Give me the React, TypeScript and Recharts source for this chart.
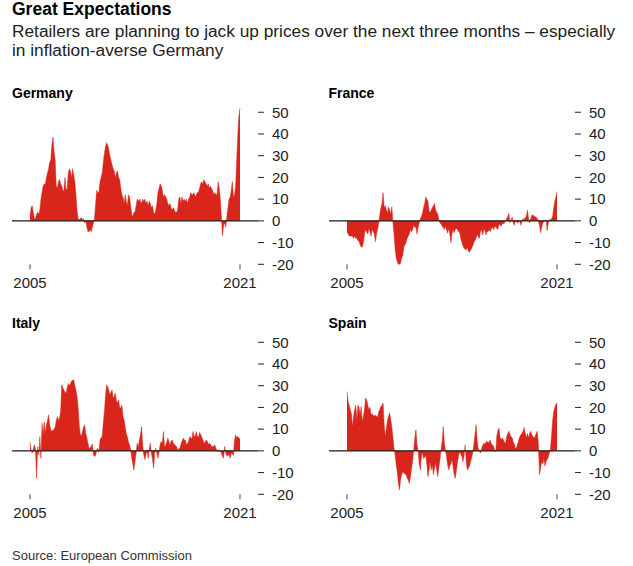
import React from 'react';
import { AreaChart, Area, XAxis, YAxis, ReferenceLine } from 'recharts';

// Monthly readings, Jan 2005 .. Jan 2021 (balance of retailers expecting higher prices)
const startYear = 2005;

const germany = [
  2, 6, 7, 4, 1, 1, 3, 4, 3, 5,
  10, 13, 16, 17, 17, 20, 22, 24, 27, 28,
  35, 38.5, 32, 28, 16, 15, 18, 19, 17, 16,
  14, 14, 20, 14, 15, 22, 24, 23, 20, 24,
  21, 18, 12, 5, 1, 0.5, 1, 1.5, 0.5, 1,
  -1, 0, -3, -5, -5, -4, -5, -3, -1, 1,
  8, 14, 13, 13, 18, 20, 22, 27, 31, 34,
  36, 35, 33, 30, 28, 26, 24, 23, 20, 22,
  23, 20, 19, 15, 12, 11, 8, 12, 9, 7,
  12, 11, 7, 3, 2, 4, 4, 7, 10, 9,
  10, 9, 8, 10, 9, 10, 8, 9, 7, 9,
  8, 6, 7, 4, 3, 5, 8, 13, 15, 17,
  16, 14, 11, 12, 11, 10, 8, 7, 8, 6,
  5, 6, 5, 4, 4, 5, 10, 11, 8, 11,
  9, 10, 9, 10, 8, 10, 11, 13, 12, 12,
  13, 11, 12, 13, 13, 15, 17, 18, 17, 19,
  18, 17, 16, 17, 15, 16, 15, 14, 12, 13,
  12, 12, 18, 15, 10, 2, -7, -2, -1, -3,
  2, 6, 10, 11, 14, 18, 11, 12, 16, 28,
  40, 48, 52,
];

const france = [
  -5, -6, -7, -7, -7, -7, -8, -7, -8, -8,
  -9, -9.5, -11, -12, -12, -10, -6, -4, -5, -6,
  -3.5, -5, -7, -4, -5, -6, -9.5, -6, -4, -1,
  3, 6, 8, 13, 6, 7, 5, 3.5, 6.5, 5,
  3, 6.5, -1, -6, -13, -17, -19, -20, -20, -19.5,
  -17, -16, -12, -11, -10, -8, -7, -6, -4, -5,
  -4, -2, -3, -3, -6, -3, -1, 1, 2, 3.5,
  6, 8, 11, 10, 9, 4.5, 4, 5, 6, 7,
  8, 5, 4, 3, 0.5, -1, -1.5, -2.5, -3, -4,
  -2.5, -4, -5.7, -3.5, -6, -10, -6, -4, -5.5, -4,
  -3.5, -4, -5, -5.5, -8, -10, -11.5, -12.6, -13, -13.4,
  -12, -14, -14.5, -13.5, -12.5, -11.5, -10, -9, -8, -6,
  -7.5, -8, -5, -4, -6.5, -4.5, -4, -6.5, -5, -5,
  -4, -5, -3.5, -3, -4, -3, -2.5, -3.5, -4, -1.5,
  -2, -2.5, -1, -1.5, -1, 0, 1, 2, 3.5, -1,
  0.5, 1.7, -1, -2, 0, -0.5, -1, -0.5, 0, -2,
  0, 1, 0.5, 1.5, 2, 5, 1, -1, 1, 2.5,
  2.8, 2, 2, 1.5, 1, 0, -2, -5.5, -3, -1,
  -0.5, 0, 0.5, -4.5, -1, 0.5, 0.5, 1, 2, 6,
  9, 11, 13.5,
];

const italy = [
  4, 0.5, -1, 1, 2.8, 1, -12.6, 2, -2, 6.6,
  -3.4, 12.7, 7.4, 13.5, 8, 12, 14, 16.6, 12, 9.7,
  9, 9.5, 10, 11, 14, 15.8, 14, 15, 18, 30.4,
  29, 28, 27, 26.6, 29, 31, 30, 31, 32, 32.5,
  32.7, 30, 28, 25, 20, 12, 7.4, 7, 9, 11,
  12, 8, 6, 3.5, 1, 1.5, 2, 3.2, -1.8, -2.6,
  -2, 0.5, 1.2, -0.5, 5, 6, 6.6, 12.7, 18, 25,
  30.4, 29.5, 28, 25.8, 27, 28, 24.3, 25, 26.6, 23,
  22, 23.5, 20, 19.7, 21, 16, 14.3, 11.2, 8, 6.6,
  4, 2.8, 0.5, -3.4, -6, -8.8, -5, -1, 3.5, 1.5,
  5, 7.4, 11.2, 3, -1.8, -4, -2, 0.5, -3.4, 1,
  3.5, -1, -4, -8, -1, 1.2, -1, -3.4, -0.5, 3,
  4.3, 3.5, 8.9, 2, 2.5, 4, 5.8, 4.5, 2.5, 4.5,
  5, 3.5, 3, 2.5, 2, 0.5, 1, 1.2, 3, 4.5,
  5.8, 5, 5, 2.8, 3.5, 4.3, 6.6, 6, 5.5, 8.9,
  7, 6.5, 8.9, 7, 6, 8.5, 7.5, 6.5, 5, 4,
  3.5, 5, 4.5, 3, 3.5, 3, 2, 2, 2, 2.8,
  1, 0.5, -0.5, 0.5, 0, -1, -2.5, -3.4, 2, -1,
  -2.5, -1.8, -2, -3.4, -1, -1.5, -2, 5, 7.4, 6,
  6.6, 6, 5.5,
];

const spain = [
  27.3, 22.7, 21, 19, 17, 11.2, 16, 19, 21, 14.3,
  21, 20, 16.6, 20.4, 13.5, 16, 19, 24.3, 23.5, 21,
  19, 20, 16.6, 17, 16.5, 15.8, 16.5, 16, 15.5, 18,
  19, 20.4, 21, 22, 12, 6.6, 10.4, 14, 16, 17.4,
  14.3, 11, 6, 1.2, -2, -6.5, -10, -15, -18, -13,
  -11, -9.5, -10.3, -10.5, -11, -12.5, -13.4, -15, -12, -8,
  -5, 0.5, 5.8, 9.7, 3, 0, -6, -8.8, -3, -0.5,
  -3.5, -3, -2, -6, -11.8, -9, -5, -8.8, -6.5, -11,
  -8, -5.5, -9, -11.8, -7.5, -4, 1, 4.3, 11.2, 4,
  0, -2.5, -6.5, -8.8, -7, -6, -4, -7.5, -11, -12.6,
  -9, -5.5, -2, -0.5, -1.5, -2.5, -5, -2.5, 2.8, -5,
  -8.8, -8, -7, -5, -3, -1, 3, 7.4, 12, 5,
  1, 0, -1, 1, 2.5, 3.5, 3, 4, 4.3, 3.8,
  4, 5, 3, 2.8, 2, 0.5, -0.5, 7, 9.5, 10.4,
  6, 5, 6, 5, 4, 3.5, 6.6, 8, 9, 7.5,
  6.5, 6, 4, 3, 1.2, 1.5, 3, 5, 6.5, 7.5,
  8, 9, 10.8, 8, 6, 8, 6, 8, 9, 7.5,
  6.5, 6, 6.5, 8, 9, 3, -11, -8, -5, -6,
  -3.5, -7, -5, -4, -3, -1, 1, 7, 14, 18,
  20, 21.5, 22,
];

const yTicks = [-20, -10, 0, 10, 20, 30, 40, 50];
const xTicks = [2005, 2021];

const FONT = '"Liberation Sans", Arial, sans-serif';
const RED = '#d9261c';

const toRows = (values: number[]) =>
  values.map((v, i) => ({ t: startYear + i / 12, v }));

const panels = [
  { name: 'Germany', values: germany, left: 0, top: 96 },
  { name: 'France', values: france, left: 316.5, top: 96 },
  { name: 'Italy', values: italy, left: 0, top: 326 },
  { name: 'Spain', values: spain, left: 316.5, top: 326 },
];

const Panel = ({ values, left, top }: { values: number[]; left: number; top: number }) => (
  <div style={{ position: 'absolute', left, top }}>
    <AreaChart
      width={303}
      height={198.3}
      data={toRows(values)}
      margin={{ top: 5.4, right: 5, bottom: 0, left: 12 }}
    >
      <XAxis
        dataKey="t"
        type="number"
        domain={[2005, 2021]}
        ticks={xTicks}
        padding={{ left: 18, right: 18 }}
        axisLine={false}
        tickLine={{ stroke: '#444' }}
        tickSize={5}
        tickMargin={8.5}
        height={30}
        interval={0}
        tick={{ fontSize: 15, fill: '#222' }}
      />
      <YAxis
        orientation="right"
        type="number"
        domain={[-20, 55]}
        ticks={yTicks}
        axisLine={false}
        tickLine={{ stroke: '#222' }}
        tickSize={6}
        tickMargin={8}
        width={40}
        interval={0}
        tick={{ fontSize: 15, fill: '#222' }}
      />
      <Area
        dataKey="v"
        type="linear"
        baseValue={0}
        fill={RED}
        fillOpacity={1}
        stroke={RED}
        strokeWidth={0.5}
        dot={false}
        activeDot={false}
        isAnimationActive={false}
      />
      <ReferenceLine y={0} stroke="#1a1a1a" strokeWidth={1.2} />
    </AreaChart>
  </div>
);

export default function App() {
  return (
    <div
      style={{
        position: 'absolute',
        left: 0,
        top: 0,
        width: 633,
        height: 566,
        background: '#fff',
        fontFamily: FONT,
        overflow: 'hidden',
      }}
    >
      <svg width={633} height={566} style={{ position: 'absolute', left: 0, top: 0 }}>
        <text x={12} y={15} fontSize={17.5} fontWeight={700} fill="#000">
          Great Expectations
        </text>
        <text x={12} y={36.5} fontSize={17.3} fill="#222">
          Retailers are planning to jack up prices over the next three months – especially
        </text>
        <text x={12} y={55.5} fontSize={17.3} fill="#222">
          in inflation-averse Germany
        </text>
        {panels.map((p) => (
          <text
            key={p.name}
            x={p.left + 12}
            y={p.top + 1.5}
            fontSize={14}
            fontWeight={700}
            fill="#000"
          >
            {p.name}
          </text>
        ))}
        <text x={12} y={560} fontSize={13} fill="#333">
          Source: European Commission
        </text>
      </svg>
      {panels.map((p) => (
        <Panel key={p.name} values={p.values} left={p.left} top={p.top} />
      ))}
    </div>
  );
}
